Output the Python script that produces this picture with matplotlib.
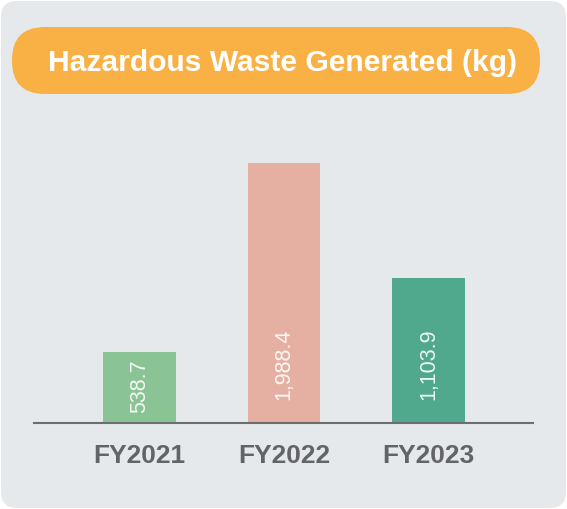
import matplotlib
matplotlib.use("Agg")
import matplotlib.pyplot as plt
from matplotlib.patches import FancyBboxPatch
import numpy as np

categories = ["FY2021", "FY2022", "FY2023"]
values = [538.7, 1988.4, 1103.9]
value_labels = ["538.7", "1,988.4", "1,103.9"]
bar_colors = ["#8bc494", "#e5b0a2", "#50a98c"]
title = "Hazardous Waste Generated (kg)"

W, H = 567, 509
fig = plt.figure(figsize=(W / 100, H / 100), dpi=100)
fig.patch.set_facecolor("white")
plt.rcParams["font.family"] = ["Liberation Sans", "DejaVu Sans"]

# background layer in pixel coordinates
bg = fig.add_axes([0, 0, 1, 1], zorder=0)
bg.set_xlim(0, W)
bg.set_ylim(H, 0)
bg.axis("off")
panel = FancyBboxPatch((1 + 16, 1 + 16), W - 2 - 32, H - 2 - 32,
                       boxstyle="round,pad=16", fc="#e5e9ec", ec="none")
bg.add_patch(panel)
pill = FancyBboxPatch((12 + 33, 27 + 33), 528 - 66, 67 - 66,
                      boxstyle="round,pad=33", fc="#f9b044", ec="none")
bg.add_patch(pill)
bg.text(283, 71, title, ha="center", va="baseline", color="white",
        fontsize=21.6, fontweight="bold")

# chart axes
left_px, right_px, base_px, top_px = 34, 533, 423, 110
ax = fig.add_axes([left_px / W, (H - base_px) / H,
                   (right_px - left_px) / W, (base_px - top_px) / H], zorder=1)
ax.patch.set_alpha(0)
px_per_unit = 0.1310
ax.set_ylim(0, (base_px - top_px) / px_per_unit)
ax.set_xlim(-0.73, 2.723)
x = np.arange(len(categories))
ax.bar(x, values, width=0.505, color=bar_colors)
for xi, v, lab in zip(x, values, value_labels):
    y = min(v / 2 + 12, 446)
    ax.text(xi, y, lab, rotation=90, ha="center", va="center",
            color="white", alpha=0.9, fontsize=15.5)

for s in ["top", "right", "left"]:
    ax.spines[s].set_visible(False)
ax.spines["bottom"].set_color("#6d6e70")
ax.spines["bottom"].set_linewidth(1.5)
ax.set_yticks([])
ax.set_xticks(x)
ax.set_xticklabels(categories, fontsize=19, fontweight="bold", color="#636466")
ax.tick_params(axis="x", length=0, pad=15)

fig.savefig("out.png", dpi=100, facecolor="white")
